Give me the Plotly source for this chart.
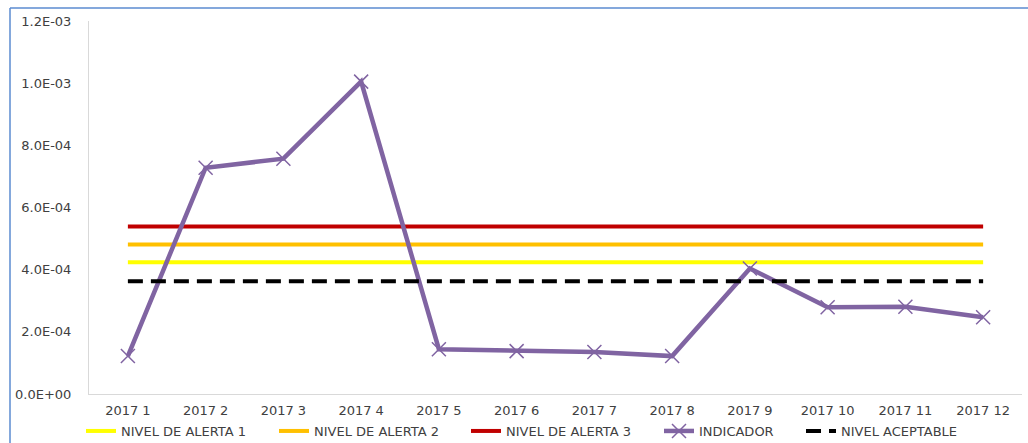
import plotly.graph_objects as go

categories = ["2017 1", "2017 2", "2017 3", "2017 4", "2017 5", "2017 6",
              "2017 7", "2017 8", "2017 9", "2017 10", "2017 11", "2017 12"]
indicador = [1.22e-4, 7.28e-4, 7.57e-4, 1.005e-3, 1.44e-4, 1.38e-4,
             1.35e-4, 1.22e-4, 4.04e-4, 2.79e-4, 2.81e-4, 2.47e-4]
alerta1 = [4.24e-4] * 12
alerta2 = [4.81e-4] * 12
alerta3 = [5.39e-4] * 12
aceptable = [3.63e-4] * 12
ytick_vals = [0, 2e-4, 4e-4, 6e-4, 8e-4, 1e-3, 1.2e-3]
ytick_text = ["0.0E+00", "2.0E-04", "4.0E-04", "6.0E-04", "8.0E-04", "1.0E-03", "1.2E-03"]

FONT = "DejaVu Sans"
TXT = "#404040"
FS = 13

fig = go.Figure()
fig.add_trace(go.Scatter(x=categories, y=alerta1, mode="lines", name="NIVEL DE ALERTA 1",
                         line=dict(color="#FFFF00", width=4), legend="legend"))
fig.add_trace(go.Scatter(x=categories, y=alerta2, mode="lines", name="NIVEL DE ALERTA 2",
                         line=dict(color="#FFC000", width=4), legend="legend2"))
fig.add_trace(go.Scatter(x=categories, y=alerta3, mode="lines", name="NIVEL DE ALERTA 3",
                         line=dict(color="#C00000", width=4), legend="legend3"))
fig.add_trace(go.Scatter(x=categories, y=indicador, mode="lines+markers", name="INDICADOR",
                         line=dict(color="#8064A2", width=4.5),
                         marker=dict(symbol="x-thin", size=14, color="#8064A2",
                                     line=dict(color="#8064A2", width=1.5)),
                         legend="legend4"))
fig.add_trace(go.Scatter(x=categories, y=aceptable, mode="lines", name="NIVEL ACEPTABLE",
                         line=dict(color="#000000", width=4, dash="15px,8px"), legend="legend5"))

def leg(xpx):
    return dict(x=(xpx - 89) / 933, y=(394 - 416) / 373, xanchor="left", yanchor="top",
                orientation="h", bgcolor="rgba(0,0,0,0)",
                font=dict(family=FONT, size=FS, color=TXT),
                itemwidth=30, tracegroupgap=0)

fig.update_layout(
    width=1028, height=443,
    margin=dict(l=89, r=6, t=21, b=49, autoexpand=False),
    paper_bgcolor="white", plot_bgcolor="white",
    showlegend=True,
    legend=leg(81), legend2=leg(274), legend3=leg(466),
    legend4=leg(659), legend5=leg(801),
    xaxis=dict(type="category", range=[-0.5, 11.5], showgrid=False, zeroline=False,
               showline=True, linecolor="#D9D9D9", linewidth=1, ticks="",
               ticklabelstandoff=4, automargin=False,
               tickfont=dict(family=FONT, size=FS, color=TXT)),
    yaxis=dict(range=[0, 1.2e-3], tickvals=ytick_vals, ticktext=ytick_text,
               showgrid=False, zeroline=False, showline=True, linecolor="#D9D9D9",
               linewidth=1, ticks="", ticklabelstandoff=14, automargin=False,
               tickfont=dict(family=FONT, size=FS, color=TXT)),
    shapes=[
        dict(type="line", xref="paper", yref="paper",
             x0=(10 - 89) / 933, x1=(1030 - 89) / 933,
             y0=(394 - 8) / 373, y1=(394 - 8) / 373,
             line=dict(color="#5B8BD0", width=1.5)),
        dict(type="line", xref="paper", yref="paper",
             x0=(10 - 89) / 933, x1=(10 - 89) / 933,
             y0=(394 - 8) / 373, y1=(394 - 450) / 373,
             line=dict(color="#5B8BD0", width=1.5)),
    ],
)

fig.write_html("out.html", config={"displayModeBar": False},
               post_script="document.body.style.margin='0';")
